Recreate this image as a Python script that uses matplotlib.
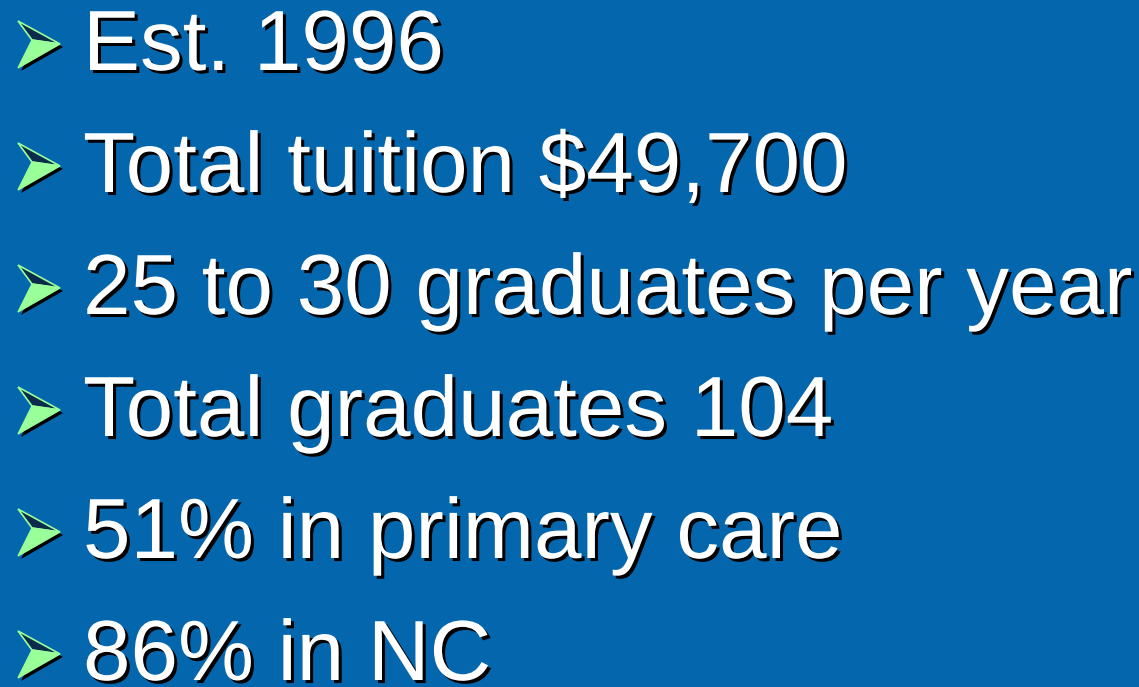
import matplotlib.pyplot as plt
from matplotlib.patches import Polygon
import matplotlib.patheffects as pe

plt.rcParams['font.family'] = ['Liberation Sans', 'DejaVu Sans']

# slide bullets
bullets = [
    'Est. 1996',
    'Total tuition $49,700',
    '25 to 30 graduates per year',
    'Total graduates 104',
    '51% in primary care',
    '86% in NC',
]

W, H = 1139, 687
fig = plt.figure(figsize=(W / 100, H / 100), dpi=100)
fig.patch.set_facecolor('#0467AE')
ax = fig.add_axes([0, 0, 1, 1])
ax.set_xlim(0, W)
ax.set_ylim(H, 0)
ax.axis('off')

first_base = 70
step = 122
shadow = [pe.SimplePatchShadow(offset=(2.2, -2.2), shadow_rgbFace='black', alpha=1.0),
          pe.Normal()]

for i, txt in enumerate(bullets):
    yb = first_base + i * step
    # arrow bullet: (back top, tip, back bottom, notch)
    top = (18, yb - 49)
    tip = (60, yb - 26)
    bot = (18, yb - 2)
    notch = (32, yb - 30)
    d = 3
    ax.add_patch(Polygon([(x + d, y + d) for x, y in [top, tip, bot, notch]],
                         closed=True, fc='black', ec='none', zorder=2))
    ax.add_patch(Polygon([top, tip, notch], closed=True, fc='#0B2B4C',
                         ec='#99FF99', lw=1.2, zorder=3))
    ax.add_patch(Polygon([notch, tip, bot], closed=True, fc='#99FF99',
                         ec='#99FF99', lw=1.0, zorder=3))
    t = ax.text(83, yb, txt, color='white', fontsize=61.5, va='baseline',
                ha='left', zorder=4)
    t.set_path_effects(shadow)

fig.savefig('out.png', dpi=100, facecolor=fig.get_facecolor())
